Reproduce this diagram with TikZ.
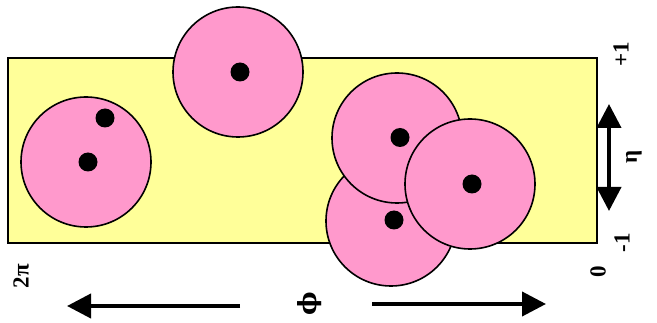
\documentclass[tikz,border=0pt]{standalone}
\usepackage{fontspec}
\setmainfont{Liberation Serif}
\newfontfamily\grk{DejaVu Serif}
\usetikzlibrary{arrows.meta}
\definecolor{bgyellow}{HTML}{FFFF99}
\definecolor{cellpink}{HTML}{FF99CC}
\tikzset{
  cell/.style={circle, draw=black, line width=1.6pt, fill=cellpink, minimum size=130pt, inner sep=0pt},
  dot/.style={circle, fill=black, minimum size=19pt, inner sep=0pt},
  axlabel/.style={rotate=90, font=\bfseries\fontsize{23}{25}\selectfont, inner sep=0pt},
  bigarrow/.style={line width=4pt, -{Triangle[length=24pt,width=24pt]}},
  dblarrow/.style={line width=4pt, {Triangle[length=24pt,width=24pt]}-{Triangle[length=24pt,width=24pt]}}
}
\begin{document}
\begin{tikzpicture}[x=1pt,y=-1pt]
\useasboundingbox (0,0) rectangle (657,323);
\node[draw=black, line width=1.6pt, fill=bgyellow, minimum width=589pt, minimum height=185pt, inner sep=0pt] (box) at (302.5,150.5) {};
% left cell
\node[cell] (c1) at (86,162) {};
\node[dot] (d1a) at (105,118) {};
\node[dot] (d1b) at (88,162) {};
% top cell
\node[cell] (c2) at (238,72) {};
\node[dot] (d2) at (240,72) {};
% cluster
\node[cell] (c3) at (391,221) {};
\node[dot] (d3) at (394,220) {};
\node[cell] (c4) at (397,138) {};
\node[dot] (d4) at (400,137.5) {};
\node[cell] (c5) at (470,184) {};
\node[dot] (d5) at (472,184) {};
% labels
\node[axlabel] (p1) at (621,54) {+1};
\node[axlabel] (eta) at (634,157) {η};
\node[axlabel] (m1) at (622,243) {-1};
\node[axlabel] (zero) at (598,272) {0};
\node[axlabel] (twopi) at (21,276) {2π};
\node[axlabel] (phi) at (310,304) {\grk\bfseries\fontsize{25}{27}\selectfont ϕ};
% arrows
\coordinate (la1) at (240,306);
\coordinate (la2) at (67,306);
\coordinate (ra1) at (372,304);
\coordinate (ra2) at (546,304);
\coordinate (va1) at (609,104);
\coordinate (va2) at (609,211);
\draw[bigarrow] (la1) -- (la2);
\draw[bigarrow] (ra1) -- (ra2);
\draw[dblarrow] (va1) -- (va2);
\end{tikzpicture}
\end{document}
